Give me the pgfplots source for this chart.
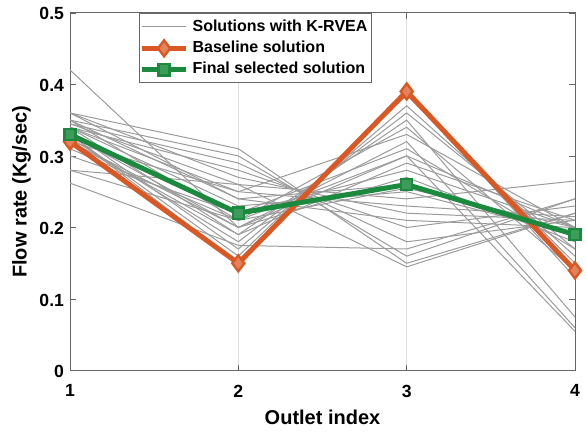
\documentclass[border=0pt]{standalone}
\usepackage{pgfplots}
\pgfplotsset{compat=1.18}
\usepackage{fontspec}
\setmainfont{Liberation Sans}
\definecolor{mlorange}{RGB}{218,88,36}
\definecolor{mlgreen}{RGB}{28,138,62}
\definecolor{solgray}{RGB}{155,155,155}
\begin{document}
\begin{tikzpicture}
\begin{axis}[
  name=ax,
  scale only axis,
  width=252.5pt, height=179pt,
  xmin=1, xmax=4, ymin=0, ymax=0.5,
  xtick={1,2,3,4}, ytick={0,0.1,0.2,0.3,0.4,0.5},
  yticklabels={0,0.1,0.2,0.3,0.4,0.5},
  xticklabels={1,2,3,4},
  tick pos=both, tick align=inside,
  major tick length=3pt,
  axis line style={draw=black!60},
  tick style={draw=black!60},
  xmajorgrids, grid style={draw=black!12, line width=0.4pt},
  ticklabel style={font=\fontsize{8.8}{10}\selectfont\bfseries},
  xticklabel style={yshift=-3.5pt},
  yticklabel style={xshift=0.5pt, yshift=-0.6pt},
  /pgf/number format/assume math mode=true,
  xlabel={\bfseries Outlet index},
  ylabel={\bfseries Flow rate (Kg/sec)},
  label style={font=\fontsize{10}{12}\selectfont},
  xlabel style={at={(axis description cs:0.5,-0.131)}, anchor=center},
  ylabel style={at={(axis description cs:-0.096,0.5)}, anchor=center},
  legend style={at={(rel axis cs:0.137,0.998)}, anchor=north west,
    font=\fontsize{8}{10}\selectfont\bfseries, draw=black!60,
    row sep=0.6pt, inner xsep=0pt, inner ysep=1.5pt,
    nodes={inner xsep=2pt, inner ysep=1.4pt}},
  legend cell align=left,
  legend image code/.code={
    \draw[#1] (0pt,0pt) -- (22pt,0pt);
    \draw[#1,only marks] plot coordinates {(11pt,0pt)};
  },
]
% gray solutions
\addplot[solgray, line width=0.5pt, forget plot] coordinates {(1,0.42) (2,0.20) (3,0.30) (4,0.20)};
\addplot[solgray, line width=0.5pt, forget plot] coordinates {(1,0.36) (2,0.31) (3,0.15) (4,0.22)};
\addplot[solgray, line width=0.5pt, forget plot] coordinates {(1,0.35) (2,0.30) (3,0.16) (4,0.24)};
\addplot[solgray, line width=0.5pt, forget plot] coordinates {(1,0.345) (2,0.29) (3,0.18) (4,0.21)};
\addplot[solgray, line width=0.5pt, forget plot] coordinates {(1,0.34) (2,0.25) (3,0.33) (4,0.20)};
\addplot[solgray, line width=0.5pt, forget plot] coordinates {(1,0.33) (2,0.16) (3,0.385) (4,0.15)};
\addplot[solgray, line width=0.5pt, forget plot] coordinates {(1,0.335) (2,0.17) (3,0.37) (4,0.16)};
\addplot[solgray, line width=0.5pt, forget plot] coordinates {(1,0.325) (2,0.18) (3,0.36) (4,0.17)};
\addplot[solgray, line width=0.5pt, forget plot] coordinates {(1,0.34) (2,0.19) (3,0.35) (4,0.075)};
\addplot[solgray, line width=0.5pt, forget plot] coordinates {(1,0.32) (2,0.20) (3,0.32) (4,0.06)};
\addplot[solgray, line width=0.5pt, forget plot] coordinates {(1,0.31) (2,0.21) (3,0.30) (4,0.055)};
\addplot[solgray, line width=0.5pt, forget plot] coordinates {(1,0.30) (2,0.22) (3,0.28) (4,0.20)};
\addplot[solgray, line width=0.5pt, forget plot] coordinates {(1,0.28) (2,0.26) (3,0.24) (4,0.265)};
\addplot[solgray, line width=0.5pt, forget plot] coordinates {(1,0.262) (2,0.175) (3,0.17) (4,0.24)};
\addplot[solgray, line width=0.5pt, forget plot] coordinates {(1,0.35) (2,0.24) (3,0.21) (4,0.20)};
\addplot[solgray, line width=0.5pt, forget plot] coordinates {(1,0.36) (2,0.27) (3,0.22) (4,0.21)};
\addplot[solgray, line width=0.5pt, forget plot] coordinates {(1,0.34) (2,0.23) (3,0.25) (4,0.19)};
\addplot[solgray, line width=0.5pt, forget plot] coordinates {(1,0.33) (2,0.20) (3,0.27) (4,0.18)};
\addplot[solgray, line width=0.5pt, forget plot] coordinates {(1,0.32) (2,0.25) (3,0.23) (4,0.215)};
\addplot[solgray, line width=0.5pt, forget plot] coordinates {(1,0.345) (2,0.26) (3,0.145) (4,0.22)};
\addplot[solgray, line width=0.5pt, forget plot] coordinates {(1,0.33) (2,0.22) (3,0.31) (4,0.17)};
\addplot[solgray, line width=0.5pt, forget plot] coordinates {(1,0.35) (2,0.21) (3,0.34) (4,0.14)};
\addplot[solgray, line width=0.5pt, forget plot] coordinates {(1,0.36) (2,0.24) (3,0.26) (4,0.19)};
\addplot[solgray, line width=0.5pt, forget plot] coordinates {(1,0.28) (2,0.21) (3,0.255) (4,0.20)};
\addplot[solgray, line width=0.5pt, forget plot] coordinates {(1,0.34) (2,0.28) (3,0.20) (4,0.23)};
\addplot[solgray, line width=0.5pt, forget plot] coordinates {(1,0.33) (2,0.15) (3,0.39) (4,0.13)};
\addplot[solgray, line width=0.5pt, forget plot] coordinates {(1,0.32) (2,0.19) (3,0.29) (4,0.21)};
% legend entry for gray
\addlegendimage{solgray, line width=0.5pt, no markers}
\addlegendentry{Solutions with K-RVEA}
% baseline
\addplot[mlorange, line width=2.5pt, mark=diamond*, mark size=4pt,
  mark options={line width=1.2pt, fill=mlorange!75!white}] coordinates {(1,0.32) (2,0.15) (3,0.39) (4,0.14)};
\addlegendentry{Baseline solution}
% final
\addplot[mlgreen, line width=2.5pt, mark=square*, mark size=2.8pt,
  mark options={line width=1.2pt, fill=mlgreen!85!white}] coordinates {(1,0.33) (2,0.22) (3,0.26) (4,0.19)};
\addlegendentry{Final selected solution}
\end{axis}
\pgfresetboundingbox
\path[use as bounding box] ([xshift=-35pt,yshift=-30.2pt]ax.south west) rectangle ([xshift=5.5pt,yshift=6.35pt]ax.north east);
\end{tikzpicture}
\end{document}
